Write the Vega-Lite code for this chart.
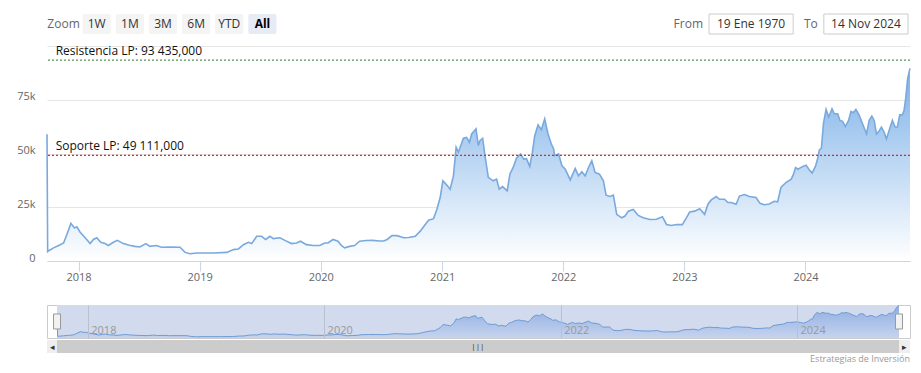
{
  "$schema": "https://vega.github.io/schema/vega-lite/v6.json",
  "padding": {"left": 7, "top": 13, "right": 5, "bottom": 2},
  "background": "#ffffff",
  "spacing": 0,
  "datasets": {
    "buttons": [{"b": "Zoom"}, {"b": "1W"}, {"b": "1M"}, {"b": "3M"}, {"b": "6M"}, {"b": "YTD"}, {"b": "All"}],
    "range": [{"lab": "From", "val": "19 Ene 1970"}, {"lab": "To", "val": "14 Nov 2024"}],
    "lines": [
      {"label": "Resistencia LP: 93 435,000", "value": 93435, "kind": "res"},
      {"label": "Soporte LP: 49 111,000", "value": 49111, "kind": "sop"}
    ],
    "one": [{"k": 1}],
    "btc": [
      {"date": "2017-09-28", "price": 59000},
      {"date": "2017-09-30", "price": 4400},
      {"date": "2017-10-03", "price": 4800},
      {"date": "2017-10-18", "price": 6100},
      {"date": "2017-11-02", "price": 7200},
      {"date": "2017-11-17", "price": 8400},
      {"date": "2017-11-27", "price": 12300},
      {"date": "2017-12-09", "price": 17500},
      {"date": "2017-12-20", "price": 15400},
      {"date": "2017-12-27", "price": 15900},
      {"date": "2018-01-06", "price": 13400},
      {"date": "2018-01-21", "price": 10800},
      {"date": "2018-02-05", "price": 8100},
      {"date": "2018-02-15", "price": 10000},
      {"date": "2018-02-25", "price": 10800},
      {"date": "2018-03-09", "price": 8700},
      {"date": "2018-03-22", "price": 8100},
      {"date": "2018-04-01", "price": 7200},
      {"date": "2018-04-16", "price": 8700},
      {"date": "2018-04-28", "price": 9600},
      {"date": "2018-05-16", "price": 8100},
      {"date": "2018-06-03", "price": 7300},
      {"date": "2018-06-20", "price": 6800},
      {"date": "2018-07-05", "price": 6500},
      {"date": "2018-07-23", "price": 8100},
      {"date": "2018-08-04", "price": 6800},
      {"date": "2018-08-24", "price": 7200},
      {"date": "2018-09-08", "price": 6400},
      {"date": "2018-10-03", "price": 6500},
      {"date": "2018-11-03", "price": 6400},
      {"date": "2018-11-18", "price": 4000},
      {"date": "2018-12-03", "price": 3400},
      {"date": "2018-12-23", "price": 3700},
      {"date": "2019-01-22", "price": 3700},
      {"date": "2019-02-12", "price": 3700},
      {"date": "2019-03-24", "price": 4000},
      {"date": "2019-04-13", "price": 5300},
      {"date": "2019-04-28", "price": 5600},
      {"date": "2019-05-13", "price": 7600},
      {"date": "2019-05-28", "price": 8700},
      {"date": "2019-06-07", "price": 8100},
      {"date": "2019-06-22", "price": 11500},
      {"date": "2019-07-07", "price": 11500},
      {"date": "2019-07-19", "price": 10000},
      {"date": "2019-08-01", "price": 11500},
      {"date": "2019-08-11", "price": 10400},
      {"date": "2019-08-31", "price": 10800},
      {"date": "2019-09-15", "price": 9600},
      {"date": "2019-10-05", "price": 8100},
      {"date": "2019-10-20", "price": 8400},
      {"date": "2019-11-01", "price": 9200},
      {"date": "2019-11-19", "price": 7600},
      {"date": "2019-12-09", "price": 7200},
      {"date": "2019-12-29", "price": 7200},
      {"date": "2020-01-13", "price": 8400},
      {"date": "2020-01-23", "price": 8400},
      {"date": "2020-02-07", "price": 10000},
      {"date": "2020-02-22", "price": 9200},
      {"date": "2020-03-03", "price": 7200},
      {"date": "2020-03-13", "price": 6100},
      {"date": "2020-03-28", "price": 6800},
      {"date": "2020-04-12", "price": 7200},
      {"date": "2020-04-27", "price": 9200},
      {"date": "2020-05-17", "price": 9500},
      {"date": "2020-06-06", "price": 9600},
      {"date": "2020-06-26", "price": 9300},
      {"date": "2020-07-09", "price": 9300},
      {"date": "2020-07-19", "price": 10000},
      {"date": "2020-08-03", "price": 11800},
      {"date": "2020-08-18", "price": 11800},
      {"date": "2020-09-07", "price": 10800},
      {"date": "2020-09-22", "price": 10900},
      {"date": "2020-10-12", "price": 11500},
      {"date": "2020-10-27", "price": 13900},
      {"date": "2020-11-11", "price": 17000},
      {"date": "2020-11-21", "price": 19000},
      {"date": "2020-12-06", "price": 19700},
      {"date": "2020-12-16", "price": 24000},
      {"date": "2020-12-26", "price": 29500},
      {"date": "2021-01-03", "price": 37300},
      {"date": "2021-01-15", "price": 35300},
      {"date": "2021-01-25", "price": 33400},
      {"date": "2021-02-04", "price": 39600},
      {"date": "2021-02-12", "price": 52900},
      {"date": "2021-02-19", "price": 50600},
      {"date": "2021-03-06", "price": 57100},
      {"date": "2021-03-16", "price": 57500},
      {"date": "2021-03-24", "price": 55200},
      {"date": "2021-03-31", "price": 59100},
      {"date": "2021-04-13", "price": 61500},
      {"date": "2021-04-20", "price": 53700},
      {"date": "2021-04-25", "price": 56000},
      {"date": "2021-05-03", "price": 57100},
      {"date": "2021-05-10", "price": 49000},
      {"date": "2021-05-20", "price": 38900},
      {"date": "2021-06-04", "price": 37300},
      {"date": "2021-06-14", "price": 38100},
      {"date": "2021-06-22", "price": 33400},
      {"date": "2021-07-02", "price": 34600},
      {"date": "2021-07-16", "price": 32600},
      {"date": "2021-07-24", "price": 40400},
      {"date": "2021-08-03", "price": 43500},
      {"date": "2021-08-13", "price": 47800},
      {"date": "2021-08-25", "price": 49800},
      {"date": "2021-09-04", "price": 47400},
      {"date": "2021-09-12", "price": 47600},
      {"date": "2021-09-22", "price": 44000},
      {"date": "2021-09-30", "price": 50600},
      {"date": "2021-10-07", "price": 58300},
      {"date": "2021-10-17", "price": 63300},
      {"date": "2021-10-27", "price": 61100},
      {"date": "2021-11-06", "price": 66100},
      {"date": "2021-11-16", "price": 59100},
      {"date": "2021-11-26", "price": 54400},
      {"date": "2021-12-03", "price": 52100},
      {"date": "2021-12-06", "price": 49000},
      {"date": "2021-12-18", "price": 49800},
      {"date": "2021-12-28", "price": 44300},
      {"date": "2022-01-07", "price": 42700},
      {"date": "2022-01-22", "price": 37700},
      {"date": "2022-02-06", "price": 43000},
      {"date": "2022-02-16", "price": 39600},
      {"date": "2022-02-26", "price": 41500},
      {"date": "2022-03-08", "price": 39600},
      {"date": "2022-03-18", "price": 43500},
      {"date": "2022-03-28", "price": 46600},
      {"date": "2022-04-07", "price": 41200},
      {"date": "2022-04-20", "price": 40400},
      {"date": "2022-05-02", "price": 37300},
      {"date": "2022-05-10", "price": 30600},
      {"date": "2022-05-22", "price": 30000},
      {"date": "2022-06-01", "price": 30600},
      {"date": "2022-06-11", "price": 21700},
      {"date": "2022-06-26", "price": 20100},
      {"date": "2022-07-06", "price": 20900},
      {"date": "2022-07-16", "price": 23200},
      {"date": "2022-07-31", "price": 24000},
      {"date": "2022-08-15", "price": 21200},
      {"date": "2022-08-30", "price": 20100},
      {"date": "2022-09-19", "price": 19300},
      {"date": "2022-10-09", "price": 19400},
      {"date": "2022-10-27", "price": 20600},
      {"date": "2022-11-08", "price": 17000},
      {"date": "2022-11-23", "price": 16500},
      {"date": "2022-12-08", "price": 17000},
      {"date": "2022-12-26", "price": 16900},
      {"date": "2023-01-07", "price": 20100},
      {"date": "2023-01-17", "price": 22800},
      {"date": "2023-02-01", "price": 23200},
      {"date": "2023-02-16", "price": 24300},
      {"date": "2023-03-03", "price": 21700},
      {"date": "2023-03-13", "price": 26400},
      {"date": "2023-03-23", "price": 28400},
      {"date": "2023-04-07", "price": 30000},
      {"date": "2023-04-17", "price": 28700},
      {"date": "2023-05-02", "price": 28700},
      {"date": "2023-05-12", "price": 27200},
      {"date": "2023-05-22", "price": 27200},
      {"date": "2023-06-06", "price": 26400},
      {"date": "2023-06-16", "price": 30200},
      {"date": "2023-07-01", "price": 30900},
      {"date": "2023-07-16", "price": 30000},
      {"date": "2023-08-05", "price": 29500},
      {"date": "2023-08-17", "price": 26800},
      {"date": "2023-08-30", "price": 26200},
      {"date": "2023-09-14", "price": 26500},
      {"date": "2023-09-29", "price": 27800},
      {"date": "2023-10-09", "price": 27500},
      {"date": "2023-10-19", "price": 34200},
      {"date": "2023-11-03", "price": 36500},
      {"date": "2023-11-19", "price": 38100},
      {"date": "2023-11-26", "price": 40400},
      {"date": "2023-12-02", "price": 43500},
      {"date": "2023-12-09", "price": 42700},
      {"date": "2023-12-24", "price": 44000},
      {"date": "2024-01-03", "price": 44600},
      {"date": "2024-01-11", "price": 42700},
      {"date": "2024-01-21", "price": 40900},
      {"date": "2024-01-31", "price": 44000},
      {"date": "2024-02-07", "price": 47800},
      {"date": "2024-02-12", "price": 51800},
      {"date": "2024-02-18", "price": 52400},
      {"date": "2024-02-24", "price": 63800},
      {"date": "2024-03-03", "price": 70500},
      {"date": "2024-03-11", "price": 67000},
      {"date": "2024-03-21", "price": 70800},
      {"date": "2024-03-28", "price": 68500},
      {"date": "2024-04-07", "price": 68500},
      {"date": "2024-04-14", "price": 65400},
      {"date": "2024-04-22", "price": 64900},
      {"date": "2024-04-30", "price": 62500},
      {"date": "2024-05-10", "price": 65400},
      {"date": "2024-05-17", "price": 69600},
      {"date": "2024-05-24", "price": 69000},
      {"date": "2024-06-01", "price": 70500},
      {"date": "2024-06-11", "price": 67700},
      {"date": "2024-06-21", "price": 63800},
      {"date": "2024-07-03", "price": 59100},
      {"date": "2024-07-11", "price": 65400},
      {"date": "2024-07-19", "price": 67400},
      {"date": "2024-07-26", "price": 65400},
      {"date": "2024-08-02", "price": 59100},
      {"date": "2024-08-10", "price": 60500},
      {"date": "2024-08-17", "price": 62300},
      {"date": "2024-08-25", "price": 59900},
      {"date": "2024-09-01", "price": 56800},
      {"date": "2024-09-09", "price": 60700},
      {"date": "2024-09-19", "price": 65400},
      {"date": "2024-09-27", "price": 62300},
      {"date": "2024-10-04", "price": 62300},
      {"date": "2024-10-11", "price": 68000},
      {"date": "2024-10-19", "price": 68000},
      {"date": "2024-10-24", "price": 70000},
      {"date": "2024-10-29", "price": 75500},
      {"date": "2024-11-04", "price": 84900},
      {"date": "2024-11-11", "price": 89600}
    ]
  },
  "vconcat": [
    {
      "hconcat": [
        {
          "width": 232,
          "height": 20,
          "data": {"name": "buttons"},
          "encoding": {
            "x": {
              "field": "b", "type": "nominal",
              "scale": {"domain": ["Zoom", "1W", "1M", "3M", "6M", "YTD", "All"], "paddingInner": 0.15, "paddingOuter": 0.075},
              "axis": {"title": null, "labels": false, "ticks": false, "domain": false, "grid": false, "minExtent": 11, "maxExtent": 11}
            }
          },
          "layer": [
            {
              "transform": [{"filter": "datum.b != 'Zoom'"}],
              "mark": {"type": "rect", "cornerRadius": 2},
              "encoding": {"fill": {"condition": {"test": "datum.b == 'All'", "value": "#e6ebf5"}, "value": "#f4f4f4"}}
            },
            {
              "transform": [{"filter": "datum.b != 'All'"}],
              "mark": {"type": "text", "fontSize": 12},
              "encoding": {
                "text": {"field": "b", "type": "nominal"},
                "color": {"condition": {"test": "datum.b == 'Zoom'", "value": "#666666"}, "value": "#333333"}
              }
            },
            {
              "transform": [{"filter": "datum.b == 'All'"}],
              "mark": {"type": "text", "fontSize": 12, "fontWeight": "bold", "fill": "#000000"},
              "encoding": {"text": {"field": "b", "type": "nominal"}}
            }
          ]
        },
        {
          "width": 199,
          "height": 20,
          "data": {"name": "range"},
          "encoding": {
            "x": {
              "field": "val", "type": "nominal",
              "scale": {"domain": ["19 Ene 1970", "14 Nov 2024"], "paddingInner": 0.267, "paddingOuter": 0},
              "axis": {"title": null, "labels": false, "ticks": false, "domain": false, "grid": false, "minExtent": 11, "maxExtent": 11}
            }
          },
          "layer": [
            {"mark": {"type": "rect", "fill": "#ffffff", "stroke": "#cccccc", "strokeWidth": 1}},
            {"mark": {"type": "text", "fontSize": 12, "fill": "#333333"}, "encoding": {"text": {"field": "val", "type": "nominal"}}},
            {
              "mark": {"type": "text", "fontSize": 12, "fill": "#666666", "align": "right", "dx": -6},
              "encoding": {"x": {"field": "val", "type": "nominal", "bandPosition": 0}, "text": {"field": "lab", "type": "nominal"}}
            }
          ]
        }
      ],
      "spacing": 394
    },
    {
      "width": 863,
      "height": 215,
      "layer": [
        {
          "data": {"name": "btc"},
          "mark": {"type": "area", "interpolate": "linear", "color": {"gradient": "linear", "x1": 0, "y1": 1, "x2": 0, "y2": 0, "stops": [{"offset": 0, "color": "#ffffff"}, {"offset": 1, "color": "#7cb1e8"}]}},
          "encoding": {
            "x": {
              "field": "date", "type": "temporal",
              "scale": {"type": "utc", "domain": [{"year": 2017, "month": 9, "date": 28, "utc": true}, {"year": 2024, "month": 11, "date": 11, "utc": true}], "nice": false},
              "axis": {"title": null, "format": "%Y", "tickCount": {"interval": "year", "step": 1}, "tickSize": 10, "tickColor": "#ccd6eb", "domainColor": "#ccd6eb", "labelPadding": 0, "labelFontSize": 11, "labelColor": "#666666", "grid": false, "labelFlush": false, "labelOverlap": false, "minExtent": 42, "maxExtent": 42}
            },
            "y": {
              "field": "price", "type": "quantitative",
              "scale": {"domain": [0, 100000], "nice": false},
              "axis": {"title": null, "values": [0, 25000, 50000, 75000, 100000], "labelExpr": "datum.value == 0 ? '0' : (datum.value >= 100000 ? '' : (datum.value / 1000) + 'k')", "grid": true, "gridColor": "#e6e6e6", "domain": false, "ticks": false, "labelPadding": 12, "labelBaseline": "alphabetic", "labelFontSize": 11, "labelColor": "#666666", "minExtent": 40, "maxExtent": 40}
            }
          }
        },
        {
          "data": {"name": "btc"},
          "mark": {"type": "line", "interpolate": "linear", "color": "#79a9dd", "strokeWidth": 1.6},
          "encoding": {
            "x": {"field": "date", "type": "temporal"},
            "y": {"field": "price", "type": "quantitative"}
          }
        },
        {
          "data": {"name": "lines"},
          "transform": [{"filter": "datum.kind == 'res'"}],
          "mark": {"type": "rule", "strokeDash": [2, 2], "strokeWidth": 1, "stroke": "#2f7a2f"},
          "encoding": {"y": {"field": "value", "type": "quantitative"}}
        },
        {
          "data": {"name": "lines"},
          "transform": [{"filter": "datum.kind == 'sop'"}],
          "mark": {"type": "rule", "strokeDash": [2, 2], "strokeWidth": 1.2, "stroke": "#e0262b"},
          "encoding": {"y": {"field": "value", "type": "quantitative"}}
        },
        {
          "data": {"name": "lines"},
          "mark": {"type": "text", "align": "left", "baseline": "bottom", "dy": -2, "fontSize": 12, "fill": "#111111"},
          "encoding": {
            "x": {"datum": {"year": 2017, "month": 10, "date": 24, "utc": true}, "type": "temporal"},
            "y": {"field": "value", "type": "quantitative"},
            "text": {"field": "label", "type": "nominal"}
          }
        }
      ]
    },
    {
      "width": 863,
      "height": 33,
      "view": {"stroke": "#cccccc"},
      "data": {"name": "btc"},
      "encoding": {
        "x": {
          "field": "date", "type": "temporal",
          "scale": {"type": "utc", "domain": [{"year": 2017, "month": 8, "date": 28, "utc": true}, {"year": 2024, "month": 12, "date": 15, "utc": true}], "nice": false},
          "axis": {"title": null, "format": "%Y", "tickCount": {"interval": "year", "step": 2}, "grid": true, "gridColor": "#b9c0ce", "ticks": false, "tickSize": 0, "domain": false, "labelAlign": "left", "labelBaseline": "bottom", "labelPadding": -3, "labelOffset": 3, "labelColor": "#999999", "labelFontSize": 11, "labelFlush": false, "labelOverlap": false, "zindex": 1, "minExtent": 0, "maxExtent": 0}
        }
      },
      "layer": [
        {
          "mark": {"type": "rect", "color": "#d2daed"},
          "encoding": {
            "x": {"aggregate": "min", "field": "date", "type": "temporal"},
            "x2": {"aggregate": "max", "field": "date"}
          }
        },
        {
          "mark": {"type": "area", "interpolate": "linear", "color": {"gradient": "linear", "x1": 0, "y1": 1, "x2": 0, "y2": 0, "stops": [{"offset": 0, "color": "#c6d3ee"}, {"offset": 1, "color": "#8eaee2"}]}},
          "encoding": {"y": {"field": "price", "type": "quantitative", "scale": {"domain": [0, 91000], "nice": false}, "axis": null}}
        },
        {
          "mark": {"type": "line", "interpolate": "linear", "color": "#6e9bd6", "strokeWidth": 1},
          "encoding": {"y": {"field": "price", "type": "quantitative"}}
        },
        {
          "mark": {"type": "tick", "orient": "vertical", "size": 15, "thickness": 7, "fill": "#f2f2f2", "stroke": "#999999", "strokeWidth": 1, "opacity": 1},
          "encoding": {"x": {"aggregate": "min", "field": "date", "type": "temporal"}}
        },
        {
          "mark": {"type": "tick", "orient": "vertical", "size": 15, "thickness": 7, "fill": "#f2f2f2", "stroke": "#999999", "strokeWidth": 1, "opacity": 1},
          "encoding": {"x": {"aggregate": "max", "field": "date", "type": "temporal"}}
        }
      ]
    },
    {
      "width": 863,
      "height": 13,
      "view": {"fill": "#eeeeee", "stroke": null},
      "title": {"text": "Estrategias de Inversión", "orient": "bottom", "anchor": "end", "fontSize": 9, "fontWeight": "normal", "color": "#999999", "offset": 2},
      "layer": [
        {
          "data": {"name": "btc"},
          "mark": {"type": "rect", "color": "#cccccc"},
          "encoding": {
            "x": {
              "aggregate": "min", "field": "date", "type": "temporal",
              "scale": {"type": "utc", "domain": [{"year": 2017, "month": 8, "date": 28, "utc": true}, {"year": 2024, "month": 12, "date": 15, "utc": true}], "nice": false},
              "axis": null
            },
            "x2": {"aggregate": "max", "field": "date"}
          }
        },
        {
          "data": {"name": "one"},
          "mark": {"type": "text", "text": "|||", "fontSize": 8, "fill": "#333333"},
          "encoding": {"x": {"datum": {"year": 2021, "month": 4, "date": 20, "utc": true}, "type": "temporal"}}
        },
        {
          "data": {"name": "one"},
          "mark": {"type": "text", "text": "◂", "fontSize": 9, "fill": "#333333"},
          "encoding": {"x": {"datum": {"year": 2017, "month": 9, "date": 14, "utc": true}, "type": "temporal"}}
        },
        {
          "data": {"name": "one"},
          "mark": {"type": "text", "text": "▸", "fontSize": 9, "fill": "#333333"},
          "encoding": {"x": {"datum": {"year": 2024, "month": 11, "date": 28, "utc": true}, "type": "temporal"}}
        }
      ]
    }
  ],
  "config": {
    "view": {"stroke": null},
    "font": "Open Sans",
    "text": {"font": "Open Sans"},
    "axis": {"labelFont": "Open Sans"},
    "title": {"font": "Open Sans"}
  }
}
